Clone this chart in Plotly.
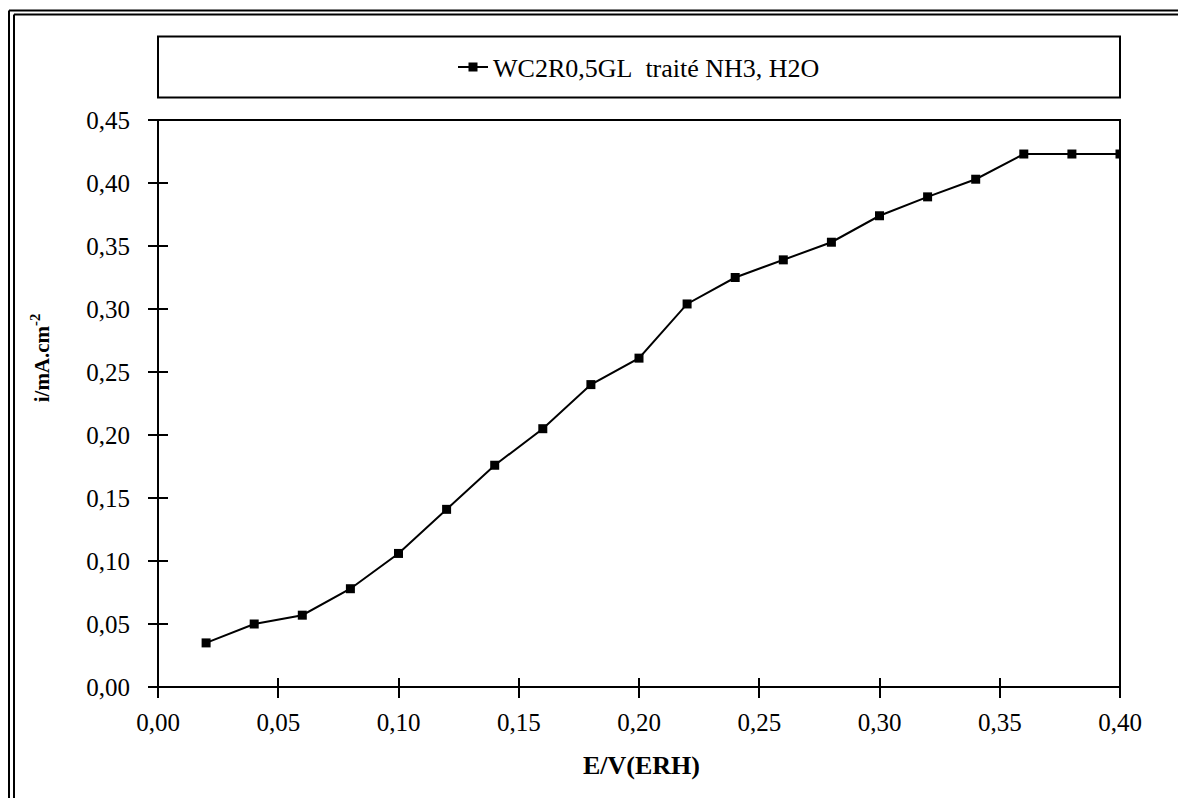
import plotly.graph_objects as go

# Potential (V vs ERH) and current density (mA/cm2)
potential = [0.02, 0.04, 0.06, 0.08, 0.10, 0.12, 0.14, 0.16, 0.18, 0.20,
             0.22, 0.24, 0.26, 0.28, 0.30, 0.32, 0.34, 0.36, 0.38, 0.40]
current = [0.035, 0.050, 0.057, 0.078, 0.106, 0.141, 0.176, 0.205, 0.240, 0.261,
           0.304, 0.325, 0.339, 0.353, 0.374, 0.389, 0.403, 0.423, 0.423, 0.423]

series_name = "WC2R0,5GL\u00a0\u00a0traité NH3, H2O"
x_title = "E/V(ERH)"
y_title = "i/mA.cm<sup>-2</sup>"
x_ticks = [0.00, 0.05, 0.10, 0.15, 0.20, 0.25, 0.30, 0.35, 0.40]
y_ticks = [0.00, 0.05, 0.10, 0.15, 0.20, 0.25, 0.30, 0.35, 0.40, 0.45]

W, H = 1178, 798
ML, MR, MT, MB = 158, 58, 119.5, 111
pw, ph = W - ML - MR, H - MT - MB
HALF_TICK = 10  # tick marks cross the axis: half inside, half outside


def px(xp):
    return (xp - ML) / pw


def py(yp):
    return (H - MB - yp) / ph


FONT = "Liberation Serif"

fig = go.Figure()
fig.add_trace(go.Scatter(
    x=potential, y=current, mode="lines+markers", name=series_name,
    line=dict(color="black", width=2),
    marker=dict(symbol="square", size=9, color="black"),
))

# axes are shifted inward by half a tick so the outside ticks straddle the frame
common = dict(showgrid=False, zeroline=False, showline=False, anchor="free",
              ticks="outside", ticklen=2 * HALF_TICK, tickwidth=1.5, tickcolor="black",
              tickformat=".2f", tickfont=dict(family=FONT, size=25, color="black"))

fig.update_layout(
    width=W, height=H,
    margin=dict(l=ML, r=MR, t=MT, b=MB),
    paper_bgcolor="white", plot_bgcolor="white",
    separators=", ",
    font=dict(family=FONT, color="black"),
    xaxis=dict(range=[0, 0.40], tickvals=x_ticks, position=HALF_TICK / ph,
               ticklabelstandoff=3, **common),
    yaxis=dict(range=[0, 0.45], tickvals=y_ticks, position=HALF_TICK / pw,
               ticklabelstandoff=13, **common),
    showlegend=True,
    legend=dict(x=0.5, y=py(66.5), xanchor="center", yanchor="middle",
                bgcolor="rgba(0,0,0,0)", borderwidth=0,
                font=dict(family=FONT, size=26, color="black")),
    shapes=[
        # plot frame
        dict(type="rect", xref="paper", yref="paper", x0=0, x1=1, y0=0, y1=1,
             layer="below", line=dict(color="black", width=2)),
        # legend box
        dict(type="rect", xref="paper", yref="paper", x0=0, x1=1,
             y0=py(97), y1=py(36), line=dict(color="black", width=2)),
        # outer double frame (left and top)
        dict(type="line", xref="paper", yref="paper", x0=px(9), x1=px(9),
             y0=py(820), y1=py(10), line=dict(color="black", width=2)),
        dict(type="line", xref="paper", yref="paper", x0=px(14), x1=px(14),
             y0=py(820), y1=py(14), line=dict(color="black", width=2)),
        dict(type="line", xref="paper", yref="paper", x0=px(9), x1=px(1200),
             y0=py(10), y1=py(10), line=dict(color="black", width=2)),
        dict(type="line", xref="paper", yref="paper", x0=px(14), x1=px(1200),
             y0=py(14), y1=py(14), line=dict(color="black", width=2)),
    ],
    annotations=[
        dict(text=f"<b>{x_title}</b>", xref="paper", yref="paper",
             x=px(641), y=py(766), xanchor="center", yanchor="middle",
             showarrow=False, font=dict(family=FONT, size=26, color="black")),
        dict(text=f"<b>{y_title}</b>", xref="paper", yref="paper",
             x=px(40), y=py(358), xanchor="center", yanchor="middle",
             textangle=-90, showarrow=False,
             font=dict(family=FONT, size=21, color="black")),
    ],
)

fig.write_html("out.html")
